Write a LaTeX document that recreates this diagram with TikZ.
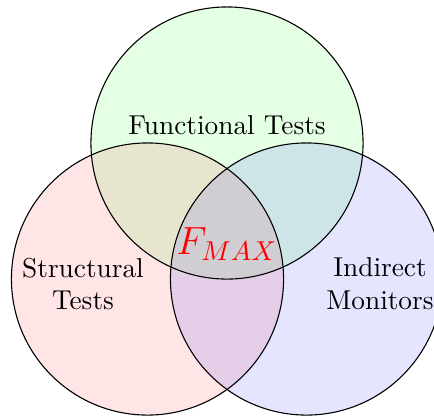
\documentclass[tikz,border=0pt]{standalone}
\begin{document}
\begin{tikzpicture}[x=0.366pt,y=-0.366pt,
  setcircle/.style={fill opacity=0.1},
  rim/.style={draw=black,line width=0.4pt},
  setlabel/.style={align=center,font=\normalsize}]
  % canvas
  \clip (0,0) rectangle (434,416);
  \coordinate (cf) at (227,143);
  \coordinate (cs) at (147.5,279);
  \coordinate (ci) at (306.5,279);
  \def\rad{49.8pt}
  % translucent fills
  \fill[green,setcircle] (cf) circle [radius=\rad];
  \fill[red,setcircle] (cs) circle [radius=\rad];
  \fill[blue,setcircle] (ci) circle [radius=\rad];
  % outlines
  \draw[rim] (cf) circle [radius=\rad];
  \draw[rim] (cs) circle [radius=\rad];
  \draw[rim] (ci) circle [radius=\rad];
  % labels
  \node[setlabel] (lf) at (227,125) {Functional Tests};
  \node[setlabel] (ls) at (83,284) {Structural\\Tests};
  \node[setlabel] (li) at (380,284) {Indirect\\Monitors};
  \node[text=red,font=\Large] (fmax) at (227,244) {$F_{MAX}$};
\end{tikzpicture}
\end{document}
